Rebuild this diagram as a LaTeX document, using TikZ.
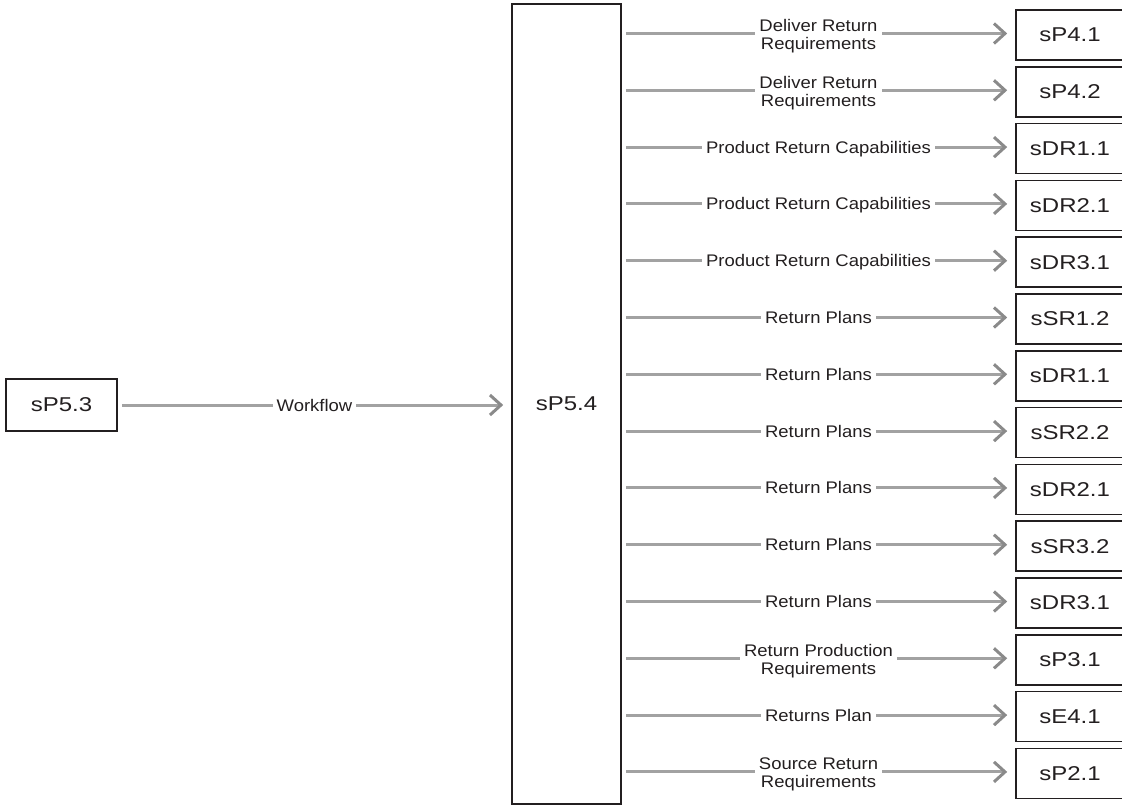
\documentclass[tikz,border=0pt]{standalone}
\usepackage{fontspec}
\setmainfont{Liberation Sans}
\newfontfamily\boxfont[FakeStretch=1.2]{Liberation Sans}
\newfontfamily\labelfont[FakeStretch=1.1]{Liberation Sans}
\usetikzlibrary{arrows.meta}
\definecolor{ink}{HTML}{231F20}
\definecolor{flow}{HTML}{A2A2A2}
\definecolor{flowedge}{HTML}{8A8A8A}

\begin{document}
\begin{tikzpicture}[x=1pt,y=-1pt,
  proc/.style={draw=ink, line width=1.6pt, text=ink, inner sep=0pt,
    font=\boxfont\fontsize{20}{24}\selectfont},
  flowline/.style={draw=flow, line width=3pt,
    -{Straight Barb[length=11pt,width=20pt,line width=3pt,color=flowedge]},
    shorten <=4pt, shorten >=8pt},
  lbl/.style={fill=white, text=ink, inner xsep=4pt, inner ysep=1pt,
    align=center, font=\labelfont\fontsize{16.8}{18}\selectfont},
  oneline/.style={lbl, anchor=base, yshift=-6pt},
  twoline/.style={lbl, anchor=base, yshift=-16pt}
]
\useasboundingbox (0,0) rectangle (1122,806);

% source and hub processes
\node[proc, minimum width=111pt, minimum height=52pt] (src) at (61.5,405) {sP5.3};
\node[proc, minimum width=109pt, minimum height=800pt] (big) at (566.5,404) {sP5.4};

\draw[flowline] (src.east) -- node[oneline] {Workflow} (src.east -| big.west);

% target processes with single-line flow labels
\foreach \i/\name/\txt in {
  3/sDR1.1/Product Return Capabilities,
  4/sDR2.1/Product Return Capabilities,
  5/sDR3.1/Product Return Capabilities,
  6/sSR1.2/Return Plans,
  7/sDR1.1/Return Plans,
  8/sSR2.2/Return Plans,
  9/sDR2.1/Return Plans,
  10/sSR3.2/Return Plans,
  11/sDR3.1/Return Plans,
  13/sE4.1/Returns Plan}{
  \node[proc, minimum width=108pt, minimum height=50pt] (r\i) at (1070,{35+56.8*(\i-1)}) {\name};
  \draw[flowline] ([yshift=1.5pt]r\i.west -| big.east) -- node[oneline] {\txt} ([yshift=1.5pt]r\i.west);
}

% target processes with two-line flow labels
\foreach \i/\name/\txt in {
  1/sP4.1/{Deliver Return\\Requirements},
  2/sP4.2/{Deliver Return\\Requirements},
  12/sP3.1/{Return Production\\Requirements},
  14/sP2.1/{Source Return\\Requirements}}{
  \node[proc, minimum width=108pt, minimum height=50pt] (r\i) at (1070,{35+56.8*(\i-1)}) {\name};
  \draw[flowline] ([yshift=1.5pt]r\i.west -| big.east) -- node[twoline] {\txt} ([yshift=1.5pt]r\i.west);
}
\end{tikzpicture}
\end{document}
